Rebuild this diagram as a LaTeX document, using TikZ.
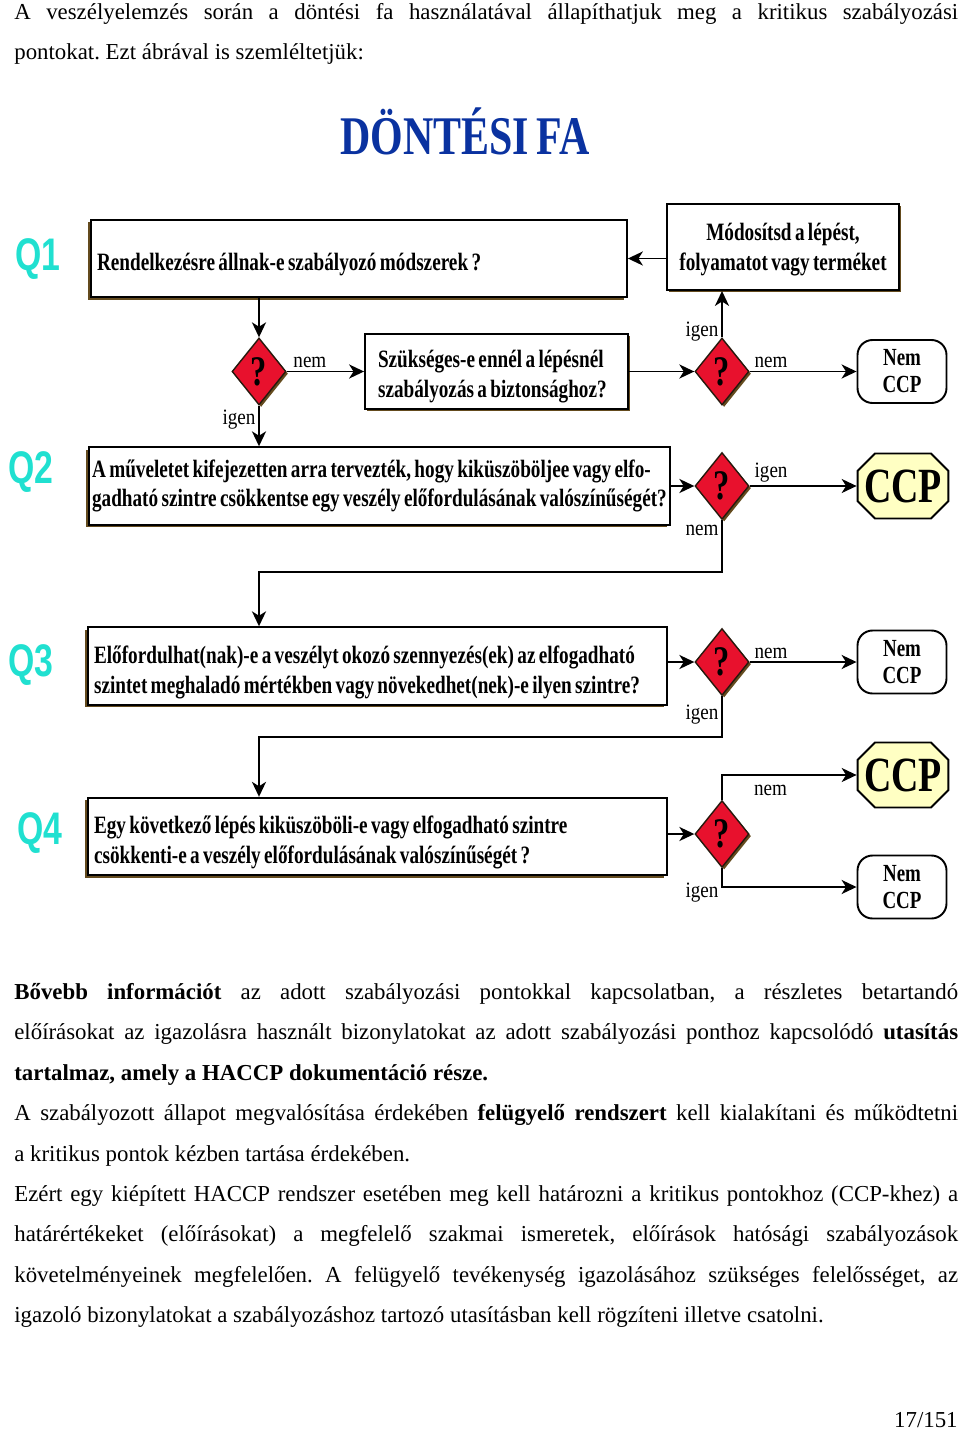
\documentclass[tikz,border=0pt]{standalone}
\usepackage{fontspec}
\setmainfont{Liberation Serif}
\newfontfamily\diafont[FakeStretch=0.77,WordSpace=0.7]{Liberation Serif}
\newfontfamily\labfont[FakeStretch=0.87]{Liberation Serif}
\newfontfamily\qfont[FakeStretch=0.74]{Liberation Sans}
\usetikzlibrary{positioning,shapes.geometric,shapes.misc,arrows.meta,shadows}
\definecolor{qcyan}{RGB}{32,224,208}
\definecolor{titleblue}{RGB}{10,50,160}
\definecolor{decred}{RGB}{232,17,45}
\definecolor{ccpyellow}{RGB}{255,255,195}
\definecolor{shadowbrown}{RGB}{100,75,30}
\setlength{\parindent}{0pt}
\frenchspacing

\begin{document}
\begin{tikzpicture}[x=0.02cm,y=-0.02cm,
    body/.style={text width=18.88cm,align=justify,inner sep=0pt,font={\fontsize{13}{23}\selectfont}},
    qbox/.style={draw,line width=1.1pt,fill=white,align=flush left,inner xsep=0.12cm,minimum height=1.55cm,
        general shadow={fill=shadowbrown,shadow xshift=-1.5pt,shadow yshift=-1.5pt},
        execute at begin node={\rule{0pt}{#1}},
        font={\diafont\bfseries\fontsize{14.2}{17}\selectfont\hyphenpenalty=10000}},
    qbox/.default=17pt,
    tbox/.style={draw,line width=1.1pt,fill=white,
        general shadow={fill=shadowbrown,shadow xshift=1.2pt,shadow yshift=-1.2pt},
        execute at begin node={\rule{0pt}{#1}},
        font={\diafont\bfseries\fontsize{14.2}{17}\selectfont\hyphenpenalty=10000}},
    tbox/.default=16pt,
    dec/.style={diamond,draw=black!80!brown,line width=0.8pt,fill=decred,inner sep=0pt,
        minimum width=1.08cm,minimum height=1.34cm,
        general shadow={fill=shadowbrown,shadow xshift=1.2pt,shadow yshift=-1.2pt},
        font={\diafont\bfseries\fontsize{24}{24}\selectfont}},
    nemccp/.style={draw,line width=1.1pt,fill=white,rounded corners=0.3cm,align=center,
        minimum width=1.78cm,minimum height=1.26cm,inner sep=0pt,
        font={\diafont\bfseries\fontsize{14}{15.4}\selectfont}},
    ccp/.style={chamfered rectangle,chamfered rectangle xsep=0.24cm,draw,line width=1.1pt,
        fill=ccpyellow,minimum height=1.3cm,inner xsep=-0.11cm,inner ysep=0pt,
        font={\diafont\bfseries\fontsize{28}{28}\selectfont}},
    qlab/.style={text=qcyan,inner sep=0pt,font={\qfont\bfseries\fontsize{26}{26}\selectfont}},
    lab/.style={inner sep=1.5pt,font={\labfont\fontsize{12.5}{12.5}\selectfont}},
    arr/.style={-{Stealth[length=8.5pt,width=8pt,inset=2.5pt]},line width=1.1pt}
  ]
  \useasboundingbox (0,0) rectangle (960,1430);

  % text above the tree
  \node[body,anchor=north west] (intro) at (14,3) {A veszélyelemzés során a döntési fa használatával állapíthatjuk meg a kritikus szabályozási\linebreak pontokat. Ezt ábrával is szemléltetjük:};
  \node[text=titleblue,font={\diafont\bfseries\fontsize{31}{31}\selectfont}] (title) at (465,131) {DÖNTÉSI FA};

  % questions
  \foreach \i/\x/\y in {1/38/259,2/31/472,3/31/665,4/40/833}
    \node[qlab] (qlab\i) at (\x,\y) {Q\i};
  \node[qbox,text width=10.48cm] (q1) at (359,258.5) {Rendelkezésre állnak-e szabályozó módszerek ?};
  \node[qbox=0pt,text width=11.5cm,inner xsep=0.06cm] (q2) at (379.5,486) {A műveletet kifejezetten arra tervezték, hogy kiküszöböljee vagy elfo-\\gadható szintre csökkentse egy veszély előfordulásának valószínűségét?};
  \node[qbox,text width=11.34cm] (q3) at (377.5,666) {Előfordulhat(nak)-e a veszélyt okozó szennyezés(ek) az elfogadható\\szintet meghaladó mértékben vagy növekedhet(nek)-e ilyen szintre?};
  \node[qbox,text width=11.34cm] (q4) at (377.5,836.5) {Egy következő lépés kiküszöböli-e vagy elfogadható szintre\\csökkenti-e a veszély előfordulásának valószínűségét ?};
  \node[tbox=13pt,align=flush center,text width=4.4cm,minimum height=1.72cm] (mod) at (783,247) {Módosítsd a lépést,\\folyamatot vagy terméket};
  \node[tbox,align=flush left,text width=4.74cm,minimum height=1.46cm,inner xsep=0.26cm] (sz) at (496.5,371.5) {Szükséges-e ennél a lépésnél\\szabályozás a biztonsághoz?};

  % decisions and results
  \node[dec] (d1) at (259,371.5) {?};
  \foreach \n/\y in {d2/371.5,d3/486,d4/662,d5/834}
    \node[dec] (\n) at (722,\y) {?};
  \foreach \n/\y in {n1/371.5,n2/662,n3/887}
    \node[nemccp] (\n) at (902,\y) {Nem\\CCP};
  \foreach \n/\y in {ccp1/486,ccp2/775}
    \node[ccp] (\n) at (903,\y) {CCP};

  % arrows
  \draw[arr] (mod.west |- q1.east) -- (q1.east);
  \draw[arr] (q1.south -| d1.north) -- (d1.north);
  \draw[arr] (d1.east) -- node[lab,above,pos=0.3] {nem} (sz.west);
  \draw[arr] (d1.south) -- node[lab,left,pos=0.35] {igen} (q2.north -| d1.south);
  \draw[arr] (sz.east) -- (d2.west);
  \draw[arr] (d2.north) -- node[lab,left,pos=0.12] {igen} (mod.south -| d2.north);
  \draw[arr] (d2.east) -- node[lab,above,pos=0.2] {nem} (n1.west);
  \draw[arr] (q2.east) -- (d3.west);
  \draw[arr] (d3.east) -- node[lab,above,pos=0.2] {igen} (ccp1.west);
  \draw[arr] (d3.south) -- node[lab,left,pos=0.2] {nem} ++(0,52) -| (q3.north -| d1.south);
  \draw[arr] (q3.east |- d4.west) -- (d4.west);
  \draw[arr] (d4.east) -- node[lab,above,pos=0.2] {nem} (n2.west);
  \draw[arr] (d4.south) -- node[lab,left,pos=0.45] {igen} ++(0,41) -| (q4.north -| d1.south);
  \draw[arr] (q4.east |- d5.west) -- (d5.west);
  \draw[arr] (d5.north) |- node[lab,below=4pt,pos=0.68] {nem} (ccp2.west);
  \draw[arr] (d5.south) |- node[lab,left,yshift=-3pt,pos=0.5] {igen} (n3.west);

  % text below the tree
  \node[body,anchor=north west] (more) at (14,983) {\textbf{Bővebb információt} az adott szabályozási pontokkal kapcsolatban, a részletes betartandó\linebreak előírásokat az igazolásra használt bizonylatokat az adott szabályozási ponthoz kapcsolódó \textbf{utasítás}\linebreak \textbf{tartalmaz, amely a HACCP dokumentáció része.}\par
  A szabályozott állapot megvalósítása érdekében \textbf{felügyelő rendszert} kell kialakítani és működtetni\linebreak a kritikus pontok kézben tartása érdekében.\par
  Ezért egy kiépített HACCP rendszer esetében meg kell határozni a kritikus pontokhoz (CCP-khez) a\linebreak határértékeket (előírásokat) a megfelelő szakmai ismeretek, előírások hatósági szabályozások\linebreak követelményeinek megfelelően. A felügyelő tevékenység igazolásához szükséges felelősséget, az\linebreak igazoló bizonylatokat a szabályozáshoz tartozó utasításban kell rögzíteni illetve csatolni.};
  \node[anchor=base east,inner sep=0pt,font={\fontsize{13}{23}\selectfont}] (page) at (958,1427) {17/151};
\end{tikzpicture}
\end{document}
